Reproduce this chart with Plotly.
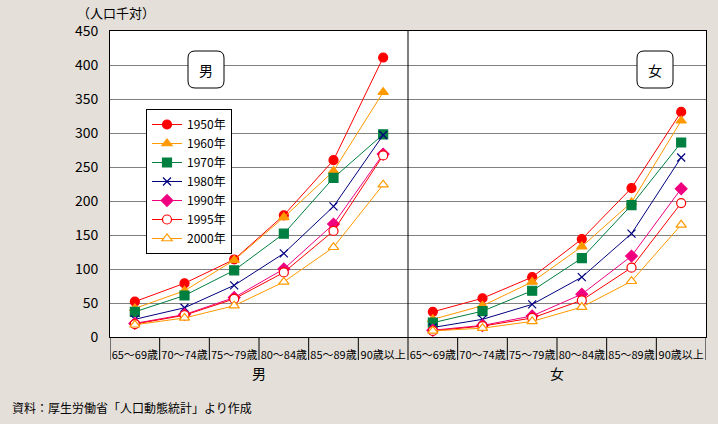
import plotly.graph_objects as go

categories = ["65～69歳", "70～74歳", "75～79歳", "80～84歳", "85～89歳", "90歳以上"]
groups = ["男", "女"]
years = ["1950年", "1960年", "1970年", "1980年", "1990年", "1995年", "2000年"]

male = {
    "1950年": [52, 79, 114, 179, 260, 411],
    "1960年": [42, 68, 113, 176, 244, 360],
    "1970年": [37, 61, 98, 152, 234, 298],
    "1980年": [26, 43, 76, 123, 192, 297],
    "1990年": [20, 33, 58, 100, 166, 269],
    "1995年": [19, 32, 56, 95, 156, 267],
    "2000年": [18, 28, 46, 81, 132, 224],
}
female = {
    "1950年": [37, 57, 88, 144, 219, 331],
    "1960年": [26, 46, 81, 133, 198, 318],
    "1970年": [21, 38, 68, 116, 194, 286],
    "1980年": [14, 26, 48, 88, 152, 264],
    "1990年": [10, 17, 31, 63, 119, 218],
    "1995年": [9, 16, 28, 54, 102, 197],
    "2000年": [9, 13, 23, 44, 82, 165],
}

styles = {
    "1950年": dict(color="#FF0000", symbol="circle", fill="#FF0000"),
    "1960年": dict(color="#FF9900", symbol="triangle-up", fill="#FF9900"),
    "1970年": dict(color="#008040", symbol="square", fill="#008040"),
    "1980年": dict(color="#000080", symbol="x-thin", fill="#000080"),
    "1990年": dict(color="#F0007F", symbol="diamond", fill="#F0007F"),
    "1995年": dict(color="#FF0000", symbol="circle", fill="#FFFFFF"),
    "2000年": dict(color="#FF9900", symbol="triangle-up", fill="#FFFFFF"),
}

n = len(categories)
xs = list(range(n)) + [n - 0.5] + list(range(n, 2 * n))

fig = go.Figure()
for yr in years:
    st = styles[yr]
    ys = male[yr] + [None] + female[yr]
    fig.add_trace(go.Scatter(
        x=xs, y=ys, name=yr, mode="lines+markers",
        line=dict(color=st["color"], width=1),
        marker=dict(symbol=st["symbol"], size=9 if st["symbol"] != "x-thin" else 8,
                    color=st["fill"],
                    line=dict(color=st["color"], width=1.2)),
        connectgaps=False,
    ))

L, R, T, B = 110, 12, 31, 87
W, H = 718 - L - R, 424 - T - B
font = "Noto Sans CJK JP"

fig.update_layout(
    width=718, height=424,
    margin=dict(l=L, r=R, t=T, b=B, autoexpand=False),
    paper_bgcolor="#E4DFD9",
    plot_bgcolor="#FFFFFF",
    font=dict(family=font, size=13, color="#000000"),
    showlegend=True,
    legend=dict(x=36 / W, y=(H - 78) / H, xanchor="left", yanchor="top",
                bgcolor="#FFFFFF", bordercolor="#000000", borderwidth=1,
                font=dict(size=12), tracegroupgap=0, itemwidth=30),
    xaxis=dict(range=[-0.5, 2 * n - 0.5], tickvals=list(range(2 * n)),
               ticktext=categories + categories, showgrid=False, zeroline=False,
               ticks="", tickfont=dict(size=11), ticklabelstandoff=8, tickangle=0,
               automargin=False,
               showline=True, linecolor="#000000", linewidth=1, mirror=True),
    yaxis=dict(range=[0, 450], dtick=50, showgrid=True, gridcolor="#808080",
               gridwidth=1, zeroline=False, ticks="", tickfont=dict(size=14),
               ticklabelstandoff=8, automargin=False,
               showline=True, linecolor="#000000", linewidth=1, mirror=True),
)

shapes = []
# separators below axis
for k in range(2 * n + 1):
    shapes.append(dict(type="line", xref="x", yref="paper", x0=k - 0.5, x1=k - 0.5,
                       y0=0, y1=-23 / H, line=dict(color="#000000", width=1)))
# full-height divider between groups
shapes.append(dict(type="line", xref="x", yref="paper", x0=n - 0.5, x1=n - 0.5,
                   y0=0, y1=1, line=dict(color="#000000", width=1)))


def rounded_box(cx, cy, w, h, r):
    x0, x1 = cx - w / 2, cx + w / 2
    y0, y1 = cy - h / 2, cy + h / 2
    px = lambda v: v / W
    py = lambda v: (H - v) / H
    p = (f"M {px(x0 + r)},{py(y0)} L {px(x1 - r)},{py(y0)} "
         f"Q {px(x1)},{py(y0)} {px(x1)},{py(y0 + r)} L {px(x1)},{py(y1 - r)} "
         f"Q {px(x1)},{py(y1)} {px(x1 - r)},{py(y1)} L {px(x0 + r)},{py(y1)} "
         f"Q {px(x0)},{py(y1)} {px(x0)},{py(y1 - r)} L {px(x0)},{py(y0 + r)} "
         f"Q {px(x0)},{py(y0)} {px(x0 + r)},{py(y0)} Z")
    return dict(type="path", xref="paper", yref="paper", path=p,
                fillcolor="#FFFFFF", line=dict(color="#000000", width=1))


shapes.append(rounded_box(206 - L, 69.5 - T, 36, 37, 7))
shapes.append(rounded_box(655 - L, 69.5 - T, 36, 37, 7))
fig.update_layout(shapes=shapes)

ann = [
    dict(x=(206 - L) / W, y=(H - (69.5 - T)) / H, text=groups[0]),
    dict(x=(655 - L) / W, y=(H - (69.5 - T)) / H, text=groups[1]),
]
for a in ann:
    fig.add_annotation(xref="paper", yref="paper", x=a["x"], y=a["y"], text=a["text"],
                       showarrow=False, font=dict(size=14), xanchor="center", yanchor="middle")

fig.add_annotation(xref="x", yref="paper", x=(n - 1) / 2, y=-36 / H, text=groups[0],
                   showarrow=False, font=dict(size=14), yanchor="middle")
fig.add_annotation(xref="x", yref="paper", x=n + (n - 1) / 2, y=-36 / H, text=groups[1],
                   showarrow=False, font=dict(size=14), yanchor="middle")
fig.add_annotation(xref="paper", yref="paper", x=(76 - L) / W, y=(H + 19) / H,
                   text="（人口千対）", showarrow=False, font=dict(size=13),
                   xanchor="left", yanchor="middle", borderpad=0)
fig.add_annotation(xref="paper", yref="paper", x=(10 - L) / W, y=-(407 - T - H) / H,
                   text="資料：厚生労働省「人口動態統計」より作成", showarrow=False,
                   font=dict(size=12), xanchor="left", yanchor="middle")

fig.write_html("out.html", config={"displayModeBar": False},
               post_script="document.body.style.margin='0';document.body.style.padding='0';")
